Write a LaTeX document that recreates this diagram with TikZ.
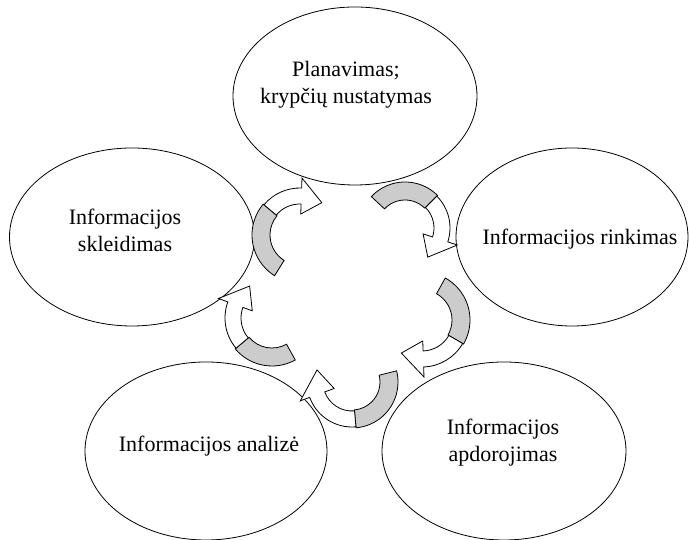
\documentclass[tikz,border=0pt]{standalone}
\usepackage{fontspec}
\setmainfont{Liberation Serif}
\usetikzlibrary{shapes.geometric}
\definecolor{shade}{RGB}{204,204,204}
\tikzset{
  bubble/.style={ellipse,draw=black,line width=0.8pt,minimum width=#1,
    minimum height=178pt,inner sep=0pt},
  bubble/.default=244pt,
  lbl/.style={font=\fontsize{22}{27}\selectfont,align=center,inner sep=0pt},
  % curved arrow: radius/start/grey end/white end/tip
  pics/turn/.style args={#1/#2/#3/#4/#5}{code={
    \filldraw[fill=shade,draw=black,line width=0.8pt]
      ({#2}:{#1-9}) arc[start angle=#2,end angle=#3,radius=#1-9]
      -- ({#3}:{#1+9}) arc[start angle=#3,end angle=#2,radius=#1+9] -- cycle;
    \filldraw[fill=white,draw=black,line width=0.8pt]
      ({#3}:{#1-8}) arc[start angle=#3,end angle=#4,radius=#1-8]
      -- ({#4}:{#1-18}) -- ({#5}:{#1}) -- ({#4}:{#1+18}) -- ({#4}:{#1+8})
      arc[start angle=#4,end angle=#3,radius=#1+8] -- cycle;
  }},
}
\begin{document}
\begin{tikzpicture}[x=1pt,y=1pt]
  \useasboundingbox (0,0) rectangle (689,540);
  \node[bubble] (plan) at (355,444) {};
  \node[bubble=232pt] (rink) at (572,303) {};
  \node[bubble] (apdor) at (504,89) {};
  \node[bubble=242pt] (anal) at (206,89) {};
  \node[bubble=245pt] (skleid) at (132,303) {};
  \node[lbl] (plan-t) at (346,455) {Planavimas;\\krypčių nustatymas};
  \node[lbl] (rink-t) at (580,301) {Informacijos rinkimas};
  \node[lbl] (apdor-t) at (503,97) {Informacijos\\apdorojimas};
  \node[lbl] (anal-t) at (209,94) {Informacijos analizė};
  \node[lbl] (skleid-t) at (125,310) {Informacijos\\skleidimas};
  \coordinate (a1) at (405,312);
  \coordinate (a2) at (422,220);
  \coordinate (a3) at (352,158);
  \coordinate (a4) at (272,222);
  \coordinate (a5) at (300,305);
  \pic at (a1) {turn=37/137/45/-18/-52};
  \pic at (a2) {turn=39/61/-30/-88/-122};
  \pic at (a3) {turn=37/14/-85/-160/-199};
  \pic at (a4) {turn=39/-61/-140/-200/-235};
  \pic at (a5) {turn=39/238/140/88/56};
\end{tikzpicture}
\end{document}
